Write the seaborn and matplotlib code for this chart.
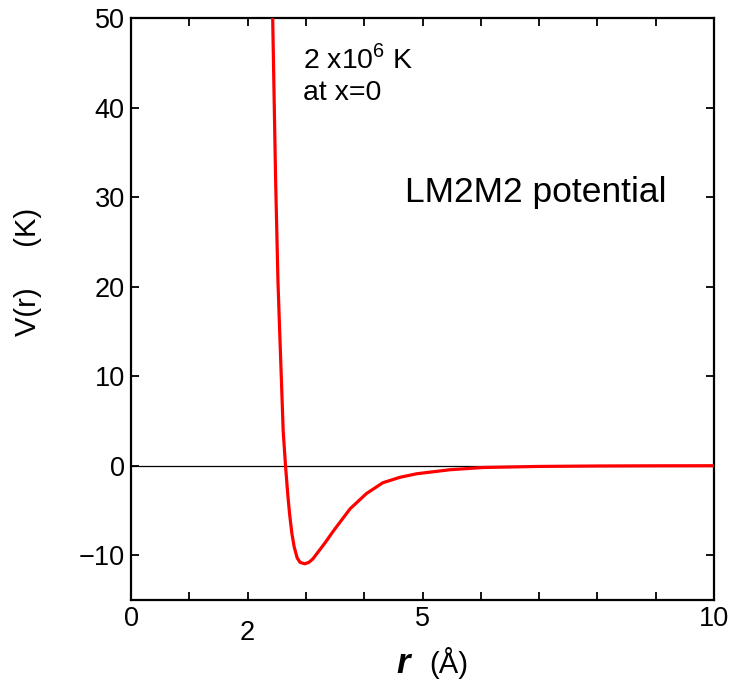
import numpy as np
import pandas as pd
import matplotlib
matplotlib.use("Agg")
import matplotlib.pyplot as plt
import seaborn as sns

# LM2M2 He-He potential
r_vals = [2.43, 2.48, 2.52, 2.55, 2.58, 2.61, 2.65, 2.69, 2.72, 2.76, 2.80,
          2.85, 2.90, 2.98, 3.05, 3.12, 3.19, 3.33, 3.47, 3.62, 3.76,
          4.04, 4.32, 4.61, 4.90, 5.47, 6.04, 7.0, 8.0, 9.0, 10.0]
v_vals = [50.0, 32.0, 20.7, 15.0, 9.5, 3.9, 0.0, -3.3, -5.4, -7.6, -9.1,
          -10.3, -10.8, -10.95, -10.8, -10.4, -9.8, -8.6, -7.3, -6.0, -4.8,
          -3.1, -1.9, -1.3, -0.9, -0.45, -0.2, -0.08, -0.03, -0.01, 0.0]

x_ticks = list(range(0, 11))
x_ticklabels = ["0", "", "2", "", "", "5", "", "", "", "", "10"]
y_ticks = [-10, 0, 10, 20, 30, 40, 50]

df = pd.DataFrame({"r": r_vals, "V": v_vals})

sns.set_style("white")
plt.rcParams["font.family"] = ["Liberation Sans", "DejaVu Sans"]
plt.rcParams["mathtext.fontset"] = "custom"
plt.rcParams["mathtext.rm"] = "Liberation Sans"
plt.rcParams["axes.unicode_minus"] = True
plt.rcParams["text.color"] = "black"
plt.rcParams["axes.labelcolor"] = "black"

fig = plt.figure(figsize=(7.47, 6.82), dpi=100)
ax = fig.add_axes([0.1754, 0.1202, 0.7804, 0.8534])

ax.axhline(0, color="black", lw=0.9, zorder=1)
sns.lineplot(data=df, x="r", y="V", color="red", lw=2.3, sort=False,
             estimator=None, ax=ax, zorder=3)

ax.set_xlim(0, 10)
ax.set_ylim(-15, 50)
ax.set_xticks(x_ticks)
ax.set_xticklabels(x_ticklabels)
ax.set_yticks(y_ticks)

for s in ax.spines.values():
    s.set_visible(True)
    s.set_color("black")
    s.set_linewidth(1.6)

ax.tick_params(direction="in", length=6, width=1.3, labelsize=19.5,
               top=True, right=True, bottom=True, left=True, pad=4.5,
               colors="black")
ax.xaxis.get_major_ticks()[2].set_pad(14.5)

ax.set_xlabel("")
ax.set_ylabel("V(r)     (K)", fontsize=21, color="black")
ax.yaxis.set_label_coords(-0.1527, 0.5636)

# x label with bold italic r
ax.text(0.4786, -0.126, "r", transform=ax.transAxes, fontsize=25,
        fontweight="bold", fontstyle="italic", ha="right", va="baseline",
        color="black")
ax.text(0.5112, -0.126, "(Å)", transform=ax.transAxes, fontsize=21,
        ha="left", va="baseline", color="black")

ax.text(2.95, 44.4, "2 x10$^6$ K", fontsize=20.5, ha="left", va="baseline",
        color="black")
ax.text(2.95, 40.8, "at x=0", fontsize=20.5, ha="left", va="baseline",
        color="black")
ax.text(4.70, 29.4, "LM2M2 potential", fontsize=25.5, ha="left",
        va="baseline", color="black")

fig.savefig("out.png", dpi=100)
